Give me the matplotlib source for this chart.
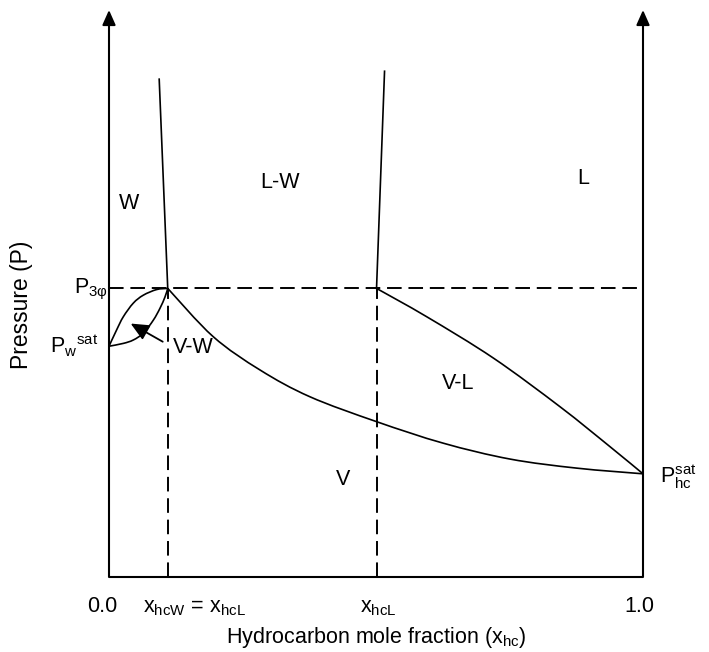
import matplotlib
matplotlib.use('Agg')
import matplotlib.pyplot as plt
from matplotlib.path import Path
from matplotlib.patches import PathPatch

plt.rcParams['font.family'] = ['Liberation Sans', 'DejaVu Sans']
plt.rcParams['mathtext.fontset'] = 'custom'
plt.rcParams['mathtext.rm'] = 'Liberation Sans'
plt.rcParams['mathtext.it'] = 'Liberation Sans:italic'

# key pressures / compositions (schematic units, axes run 0..1)
P_3phase = 0.509
P_w_sat = 0.407
P_hc_sat = 0.182
x_hcW = 0.110
x_hcL = 0.501

# L-W boundary lines going up from the three-phase points
lw_left_x = [x_hcW, 0.094]
lw_left_p = [P_3phase, 0.878]
lw_right_x = [x_hcL, 0.516]
lw_right_p = [P_3phase, 0.892]

# dew curve (vapour side), from three-phase point to P_hc_sat
dew_x = [0.110, 0.195, 0.283, 0.376, 0.501, 0.626, 0.751, 0.876, 1.0]
dew_p = [0.509, 0.424, 0.365, 0.318, 0.274, 0.236, 0.208, 0.192, 0.182]

# bubble curve (liquid side)
bub_x = [0.501, 0.595, 0.720, 0.845, 0.938, 1.0]
bub_p = [0.509, 0.459, 0.386, 0.300, 0.230, 0.182]

# small V-W lens near the water axis
lens_up_x = [0.0, 0.0144, 0.0268, 0.0455, 0.0642, 0.0893, 0.110]
lens_up_p = [0.407, 0.436, 0.459, 0.483, 0.497, 0.507, 0.509]
lens_lo_x = [0.0, 0.0268, 0.0455, 0.0642, 0.0830, 0.0955, 0.1049, 0.110]
lens_lo_p = [0.407, 0.412, 0.418, 0.430, 0.453, 0.474, 0.494, 0.509]

region_labels = ['W', 'L-W', 'L', 'V-L', 'V']
region_x = [0.038, 0.320, 0.888, 0.654, 0.439]
region_p = [0.658, 0.695, 0.702, 0.341, 0.172]

FS = 15.5


def smooth_path(xs, ys):
    # bezier path passing through the read points (catmull-rom style handles)
    pts = list(zip(xs, ys))
    verts = [pts[0]]
    codes = [Path.MOVETO]
    n = len(pts)
    for i in range(n - 1):
        p0 = pts[i - 1] if i > 0 else pts[i]
        p1 = pts[i]
        p2 = pts[i + 1]
        p3 = pts[i + 2] if i + 2 < n else pts[i + 1]
        c1 = (p1[0] + (p2[0] - p0[0]) / 6, p1[1] + (p2[1] - p0[1]) / 6)
        c2 = (p2[0] - (p3[0] - p1[0]) / 6, p2[1] - (p3[1] - p1[1]) / 6)
        verts += [c1, c2, p2]
        codes += [Path.CURVE4] * 3
    return Path(verts, codes)


fig = plt.figure(figsize=(7.09, 6.52), dpi=100)
ax = fig.add_axes([109 / 709, 75 / 652, 534 / 709, 567 / 652])
ax.set_xlim(0, 1)
ax.set_ylim(0, 1)
ax.axis('off')

# axes: bottom line plus two arrows
ax.plot([0, 1], [0, 0], color='black', lw=1.5, clip_on=False, solid_capstyle='butt')
for xa in (0, 1):
    ax.annotate('', xy=(xa, 1.0), xytext=(xa, 0),
                arrowprops=dict(arrowstyle='-|>,head_length=0.9,head_width=0.4',
                                lw=1.5, color='black', shrinkA=0, shrinkB=0,
                                mutation_scale=10))

# dashed guides
dash = (7.5, 3.5)
ax.plot([0, 1], [P_3phase, P_3phase], color='black', lw=1.4, dashes=dash)
ax.plot([x_hcW, x_hcW], [0, P_3phase], color='black', lw=1.4, dashes=dash)
ax.plot([x_hcL, x_hcL], [0, P_3phase], color='black', lw=1.4, dashes=dash)

# phase boundaries
ax.plot(lw_left_x, lw_left_p, color='black', lw=1.2)
ax.plot(lw_right_x, lw_right_p, color='black', lw=1.2)
for cx, cp in [(dew_x, dew_p), (bub_x, bub_p), (lens_up_x, lens_up_p), (lens_lo_x, lens_lo_p)]:
    ax.add_patch(PathPatch(smooth_path(cx, cp), facecolor='none', edgecolor='black', lw=1.2))

# region labels
for lab, xx, pp in zip(region_labels, region_x, region_p):
    ax.text(xx, pp, lab, fontsize=FS, ha='center', va='center')

ax.text(0.119, 0.405, 'V-W', fontsize=FS, ha='left', va='center')
ax.annotate('', xy=(0.0406, 0.447), xytext=(0.1006, 0.415),
            arrowprops=dict(arrowstyle='-|>,head_length=1.1,head_width=0.5',
                            lw=1.3, color='black', shrinkA=0, shrinkB=0,
                            mutation_scale=10))

# pressure labels
ax.text(-0.0655, 0.501, r'P$\mathregular{_{3\varphi}}$', fontsize=FS, ha='left', va='baseline')
ax.text(-0.1105, 0.395, r'P$\mathregular{_{w}{}^{sat}}$', fontsize=FS, ha='left', va='baseline')
ax.text(1.031, 0.166, r'P$\mathregular{_{hc}^{sat}}$', fontsize=FS, ha='left', va='baseline')

# x tick labels
ax.text(-0.012, -0.0617, '0.0', fontsize=FS, ha='center', va='baseline')
ax.text(0.0637, -0.0617, r'x$\mathregular{_{hcW}}$ = x$\mathregular{_{hcL}}$', fontsize=FS,
        ha='left', va='baseline')
ax.text(0.470, -0.0617, r'x$\mathregular{_{hcL}}$', fontsize=FS, ha='left', va='baseline')
ax.text(0.994, -0.0617, '1.0', fontsize=FS, ha='center', va='baseline')

# axis titles
ax.text(0.5, -0.116, r'Hydrocarbon mole fraction (x$\mathregular{_{hc}}$)', fontsize=FS,
        ha='center', va='baseline')
ax.text(-0.163, 0.48, 'Pressure (P)', fontsize=16.5, ha='center', va='center', rotation=90)

fig.savefig('out.png', dpi=100)
